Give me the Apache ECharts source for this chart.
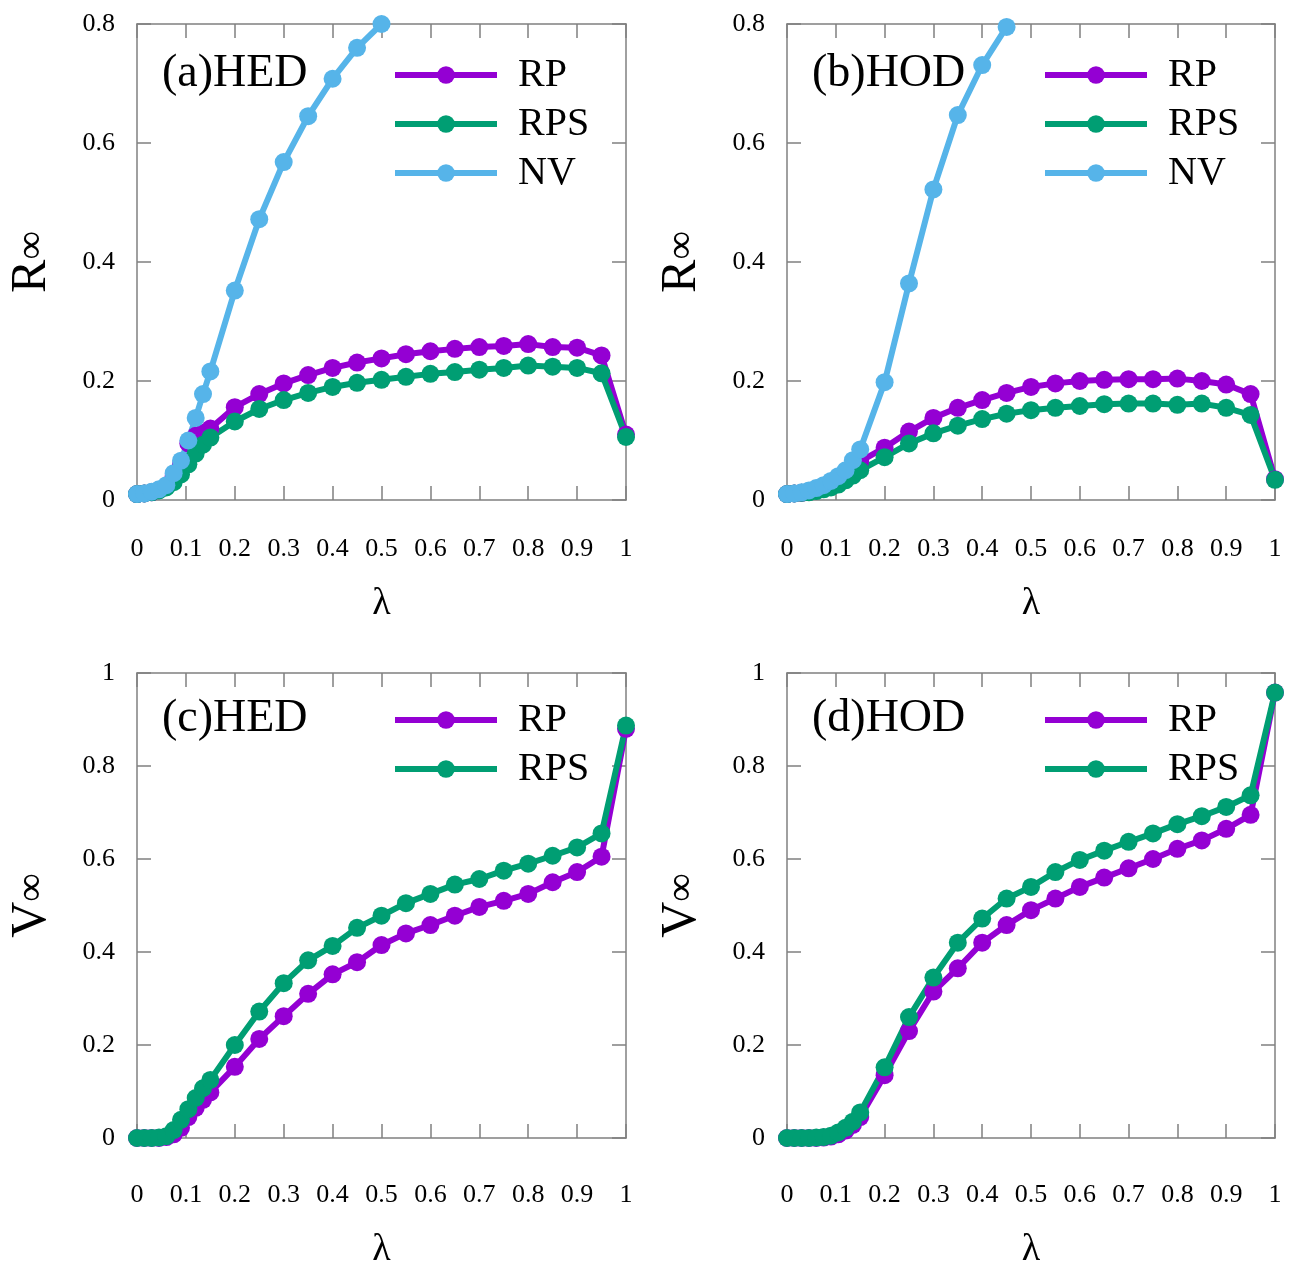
<!DOCTYPE html>
<html>
<head>
<meta charset="utf-8">
<script src="https://cdn.jsdelivr.net/npm/echarts@6/dist/echarts.min.js"></script>
<style>
  html, body { margin: 0; padding: 0; background: #fff; }
  #chart { width: 1298px; height: 1266px; }
</style>
</head>
<body>
<div id="chart"></div>
<script>
// lambda sample points (shared by all panels)
const lam = [0, 0.015, 0.03, 0.045, 0.06, 0.075, 0.09, 0.105, 0.12, 0.135, 0.15,
  0.2, 0.25, 0.3, 0.35, 0.4, 0.45, 0.5, 0.55, 0.6, 0.65, 0.7, 0.75, 0.8, 0.85, 0.9, 0.95, 1];

// (a) HED, R_inf
const rpA  = [0.01, 0.011, 0.013, 0.017, 0.023, 0.04, 0.06, 0.095, 0.108, 0.113, 0.12,
  0.156, 0.178, 0.196, 0.21, 0.222, 0.231, 0.238, 0.245, 0.25, 0.254, 0.257, 0.259, 0.262, 0.257, 0.256, 0.243, 0.11];
const rpsA = [0.01, 0.011, 0.013, 0.016, 0.021, 0.03, 0.043, 0.06, 0.078, 0.093, 0.105,
  0.132, 0.153, 0.168, 0.18, 0.19, 0.197, 0.202, 0.207, 0.212, 0.215, 0.219, 0.222, 0.226, 0.224, 0.222, 0.213, 0.106];
const nvA  = [0.01, 0.011, 0.014, 0.018, 0.025, 0.045, 0.066, 0.1, 0.138, 0.178, 0.216,
  0.352, 0.472, 0.568, 0.645, 0.708, 0.76, 0.8];

// (b) HOD, R_inf
const rpB  = [0.01, 0.011, 0.012, 0.014, 0.016, 0.02, 0.025, 0.032, 0.042, 0.053, 0.065,
  0.088, 0.115, 0.138, 0.155, 0.168, 0.18, 0.19, 0.196, 0.2, 0.202, 0.203, 0.203, 0.204, 0.2, 0.194, 0.178, 0.035];
const rpsB = [0.01, 0.011, 0.012, 0.013, 0.015, 0.018, 0.021, 0.026, 0.033, 0.041, 0.05,
  0.072, 0.095, 0.112, 0.125, 0.136, 0.145, 0.151, 0.155, 0.158, 0.161, 0.162, 0.162, 0.16, 0.162, 0.155, 0.143, 0.034];
const nvB  = [0.01, 0.011, 0.013, 0.016, 0.02, 0.025, 0.032, 0.04, 0.05, 0.067, 0.085,
  0.198, 0.364, 0.522, 0.647, 0.731, 0.795];

// (c) HED, V_inf
const rpC  = [0, 0, 0, 0, 0.002, 0.008, 0.022, 0.045, 0.065, 0.082, 0.098,
  0.153, 0.213, 0.262, 0.31, 0.352, 0.378, 0.415, 0.44, 0.458, 0.478, 0.497, 0.51, 0.525, 0.55, 0.572, 0.605, 0.88];
const rpsC = [0, 0, 0, 0.001, 0.004, 0.017, 0.039, 0.062, 0.086, 0.107, 0.125,
  0.2, 0.272, 0.333, 0.382, 0.413, 0.452, 0.478, 0.505, 0.525, 0.545, 0.557, 0.575, 0.59, 0.607, 0.625, 0.655, 0.887];

// (d) HOD, V_inf
const rpD  = [0, 0, 0, 0, 0, 0.001, 0.003, 0.008, 0.016, 0.028, 0.045,
  0.135, 0.23, 0.315, 0.365, 0.42, 0.458, 0.49, 0.515, 0.54, 0.56, 0.58, 0.6, 0.622, 0.64, 0.665, 0.695, 0.958];
const rpsD = [0, 0, 0, 0, 0.001, 0.002, 0.005, 0.012, 0.022, 0.035, 0.055,
  0.152, 0.26, 0.345, 0.42, 0.472, 0.515, 0.54, 0.572, 0.598, 0.618, 0.637, 0.655, 0.675, 0.692, 0.712, 0.737, 0.958];

const panelLabels = ['(a)HED', '(b)HOD', '(c)HED', '(d)HOD'];
const yNames = ['R', 'R', 'V', 'V'];
const yMax = [0.8, 0.8, 1, 1];

const COLORS = { RP: '#9400d3', RPS: '#009e73', NV: '#56b4e9' };
const FONT = '"Liberation Serif", "Times New Roman", serif';
const AXIS_COLOR = '#808080';

const chart = echarts.init(document.getElementById('chart'));

const grids = [
  { left: 137, top: 24, width: 489, height: 476, outerBoundsMode: 'none' },
  { left: 787, top: 24, width: 488, height: 476, outerBoundsMode: 'none' },
  { left: 137, top: 673, width: 489, height: 465, outerBoundsMode: 'none' },
  { left: 787, top: 673, width: 488, height: 465, outerBoundsMode: 'none' }
];
// row 0 / row 1 tweaks
const labelMargin = [36, 36, 44, 44];
const nameGapX = [85, 85, 93, 93];
const headerTop = [55, 55, 700, 700];

const fmt = v => String(+v.toFixed(1));

const xAxes = [], yAxes = [], series = [], legends = [], titles = [];

grids.forEach((g, i) => {
  const base = {
    gridIndex: i, type: 'value', min: 0, max: 1, interval: 0.1,
    axisLine: { show: true, onZero: false, lineStyle: { color: AXIS_COLOR, width: 1.5 } },
    axisTick: { show: true, inside: true, length: 14, lineStyle: { color: AXIS_COLOR, width: 1.5 } },
    splitLine: { show: false }
  };
  xAxes.push(Object.assign({}, base, {
    position: 'bottom',
    axisLabel: { margin: labelMargin[i], fontSize: 26, color: '#000', fontFamily: FONT, formatter: fmt },
    name: 'λ', nameLocation: 'middle', nameGap: nameGapX[i],
    nameTextStyle: { fontSize: 38, color: '#000', fontFamily: FONT }
  }));
  xAxes.push(Object.assign({}, base, { position: 'top', axisLabel: { show: false } }));

  const ybase = Object.assign({}, base, { max: yMax[i], interval: 0.2 });
  yAxes.push(Object.assign({}, ybase, {
    position: 'left',
    axisLabel: { margin: 22, fontSize: 26, color: '#000', fontFamily: FONT, formatter: fmt },
    name: '{a|' + yNames[i] + '}{b|∞}', nameLocation: 'middle', nameGap: 80,
    nameTextStyle: {
      color: '#000', fontFamily: FONT,
      rich: {
        a: { fontSize: 50, fontFamily: FONT, color: '#000' },
        b: { fontSize: 40, fontFamily: FONT, color: '#000' }
      }
    }
  }));
  yAxes.push(Object.assign({}, ybase, { position: 'right', axisLabel: { show: false } }));

  titles.push({
    text: panelLabels[i], left: g.left + 25, top: headerTop[i] - 4, padding: 0,
    textStyle: { fontSize: 46, fontWeight: 'normal', color: '#000', fontFamily: FONT }
  });
});

const panelSeries = [
  [['RP', rpA], ['RPS', rpsA], ['NV', nvA]],
  [['RP', rpB], ['RPS', rpsB], ['NV', nvB]],
  [['RP', rpC], ['RPS', rpsC]],
  [['RP', rpD], ['RPS', rpsD]]
];

panelSeries.forEach((list, i) => {
  list.forEach(([name, vals]) => {
    series.push({
      name, type: 'line', xAxisIndex: 2 * i, yAxisIndex: 2 * i,
      data: vals.map((v, k) => [lam[k], v]),
      symbol: 'circle', symbolSize: 18, clip: false,
      lineStyle: { width: 6, color: COLORS[name] },
      itemStyle: { color: COLORS[name] },
      animation: false
    });
  });
  legends.push({
    orient: 'vertical', left: grids[i].left + 255, top: headerTop[i], padding: 0,
    data: list.map(d => d[0]), itemWidth: 102, itemHeight: 22, itemGap: 9,
    selectedMode: false,
    lineStyle: { width: 6 },
    textStyle: { fontSize: 40, lineHeight: 40, color: '#000', fontFamily: FONT, padding: [0, 0, 0, 16] }
  });
});

chart.setOption({
  backgroundColor: '#fff',
  animation: false,
  title: titles,
  legend: legends,
  grid: grids,
  xAxis: xAxes,
  yAxis: yAxes,
  series
});
</script>
</body>
</html>
